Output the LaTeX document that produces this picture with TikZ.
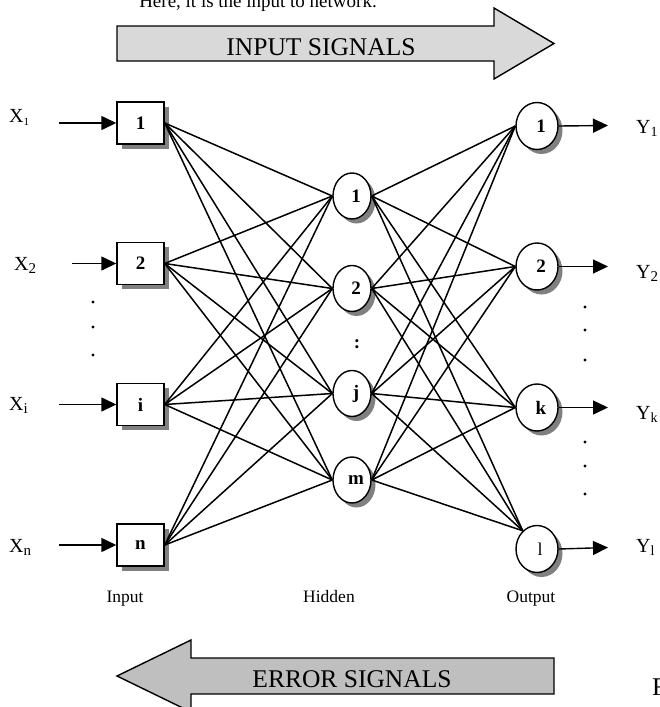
\documentclass[tikz,border=0pt]{standalone}
\usepackage{fontspec}
\setmainfont{Liberation Serif}
\usetikzlibrary{arrows.meta,shapes.geometric,shadows}

% label with a lowered index, e.g. \idx{X}{1}{12}
\newcommand{\idx}[3]{#1\raisebox{-3pt}{\fontsize{#3}{#3}\selectfont #2}}

\begin{document}
\begin{tikzpicture}[x=1pt,y=-1pt,
  shade/.style={drop shadow={shadow xshift=4.5pt,shadow yshift=-4.5pt,fill=black!50,opacity=1}},
  inbox/.style={draw,fill=white,line width=1.4pt,minimum width=47pt,minimum height=42pt,
    inner sep=0pt,font=\fontsize{19}{19}\selectfont\bfseries,shade},
  hid/.style={ellipse,draw,fill=white,line width=1.4pt,minimum width=38pt,minimum height=46pt,
    inner sep=0pt,shade},
  outn/.style={ellipse,draw,fill=white,line width=1.4pt,minimum width=42pt,minimum height=47pt,
    inner sep=0pt,shade},
  num/.style={font=\fontsize{19}{19}\selectfont\bfseries,inner sep=0pt},
  link/.style={line width=1.5pt},
  feed/.style={line width=1.4pt,-{Triangle[length=15pt,width=14pt]}},
  sig/.style={font=\fontsize{20}{20}\selectfont,inner sep=0pt,anchor=base west},
  layer/.style={font=\fontsize{17.5}{17.5}\selectfont,inner sep=0pt,anchor=base},
  big/.style={font=\fontsize{25.5}{25.5}\selectfont,inner sep=0pt,anchor=base},
  bigarrow/.style={draw,line width=1.4pt},
  dot/.style={circle,fill=black,inner sep=0pt,minimum size=3.4pt}
]
\useasboundingbox (0,0) rectangle (659,707);

% caption line above the figure
\node[font=\fontsize{19}{19}\selectfont,inner sep=0pt,anchor=base] (cap) at (258,7.5)
  {Here, it is the input to network.};

% forward signal arrow
\draw[bigarrow,fill=black!15] (117,26) -- (494,26) -- (494,8) -- (554,43.5)
  -- (494,79) -- (494,61) -- (117,61) -- cycle;
\node[big] (fwd) at (321,55) {INPUT SIGNALS};

% input layer
\node[inbox] (i1) at (140.5,123) {1};
\node[inbox] (i2) at (140.5,263.5) {2};
\node[inbox] (ii) at (140.5,404.5) {i};
\node[inbox] (in) at (140.5,545) {n};

% hidden layer
\node[hid,label={[num,xshift=4pt]center:1}] (h1) at (352,196) {};
\node[hid,label={[num,xshift=4pt]center:2}] (h2) at (352,288.5) {};
\node[hid,label={[num,xshift=4pt]center:j}] (hj) at (352,393.5) {};
\node[hid,label={[num,xshift=4pt]center:m}] (hm) at (352,480) {};
\node[num] (hdots) at (357,344) {:};

% output layer
\node[outn,label={[num,xshift=4pt]center:1}] (o1) at (537,126) {};
\node[outn,label={[num,xshift=4pt]center:2}] (o2) at (537,266.5) {};
\node[outn,label={[num,xshift=4pt]center:k}] (ok) at (537,407.5) {};
\node[outn,label={[xshift=3pt,font=\fontsize{18}{18}\selectfont,inner sep=0pt]center:l}] (ol) at (537,549) {};

% weights: input -> hidden
\foreach \a in {i1,i2,ii,in}
  \foreach \b in {h1,h2,hj,hm}
    \draw[link] (\a.east) -- (\b.west);

% weights: hidden -> output
\foreach \a in {h1,h2,hj,hm} {
  \draw[link] (\a.east) -- (o1.west);
  \draw[link] (\a.east) -- (o2.west);
  \draw[link] (\a.east) -- (ok.west);
  \draw[link] (\a.east) -- (ol.128);
}

% input signals
\coordinate (x1s) at (59,123);
\coordinate (x2s) at (72,263.5);
\coordinate (xis) at (59,404.5);
\coordinate (xns) at (59,545);
\draw[feed] (x1s) -- (i1.west);
\draw[feed] (x2s) -- (i2.west);
\draw[feed] (xis) -- (ii.west);
\draw[feed] (xns) -- (in.west);
\node[sig] (x1) at (9,122) {\idx{X}{1}{11}};
\node[sig] (x2) at (14,270) {\idx{X}{2}{15}};
\node[sig] (xi) at (9,410) {\idx{X}{i}{15}};
\node[sig] (xn) at (9,552) {\idx{X}{n}{15}};

% output signals
\coordinate (y1e) at (608,125.5);
\coordinate (y2e) at (608,266.5);
\coordinate (yke) at (608,407.5);
\coordinate (yle) at (608,547.5);
\draw[feed] (o1.east) -- (y1e);
\draw[feed] (o2.east) -- (y2e);
\draw[feed] (ok.east) -- (yke);
\draw[feed] (ol.east) -- (yle);
\node[sig] (y1) at (636,133) {\idx{Y}{1}{14}};
\node[sig] (y2) at (636,278) {\idx{Y}{2}{15}};
\node[sig] (yk) at (636,419) {\idx{Y}{k}{14}};
\node[sig] (yl) at (636,552) {\idx{Y}{l}{14}};

% ellipsis dots
\node[dot] (ld1) at (93,302) {};
\node[dot] (ld2) at (93,327) {};
\node[dot] (ld3) at (93,355) {};
\node[dot] (rd1) at (585,307) {};
\node[dot] (rd2) at (585,330) {};
\node[dot] (rd3) at (585,360) {};
\node[dot] (rd4) at (585,442) {};
\node[dot] (rd5) at (585,466) {};
\node[dot] (rd6) at (585,494) {};

% layer names
\node[layer] (lin) at (125,602) {Input};
\node[layer] (lhid) at (329,602) {Hidden};
\node[layer] (lout) at (531,602) {Output};

% backward error arrow
\draw[bigarrow,fill=black!25] (554,658) -- (191,658) -- (191,640) -- (117,676)
  -- (191,712) -- (191,694) -- (554,694) -- cycle;
\node[big] (bwd) at (352,687) {ERROR SIGNALS};

% figure caption start
\node[big,anchor=base west] (fig) at (652,695) {Fig.};
\end{tikzpicture}
\end{document}
